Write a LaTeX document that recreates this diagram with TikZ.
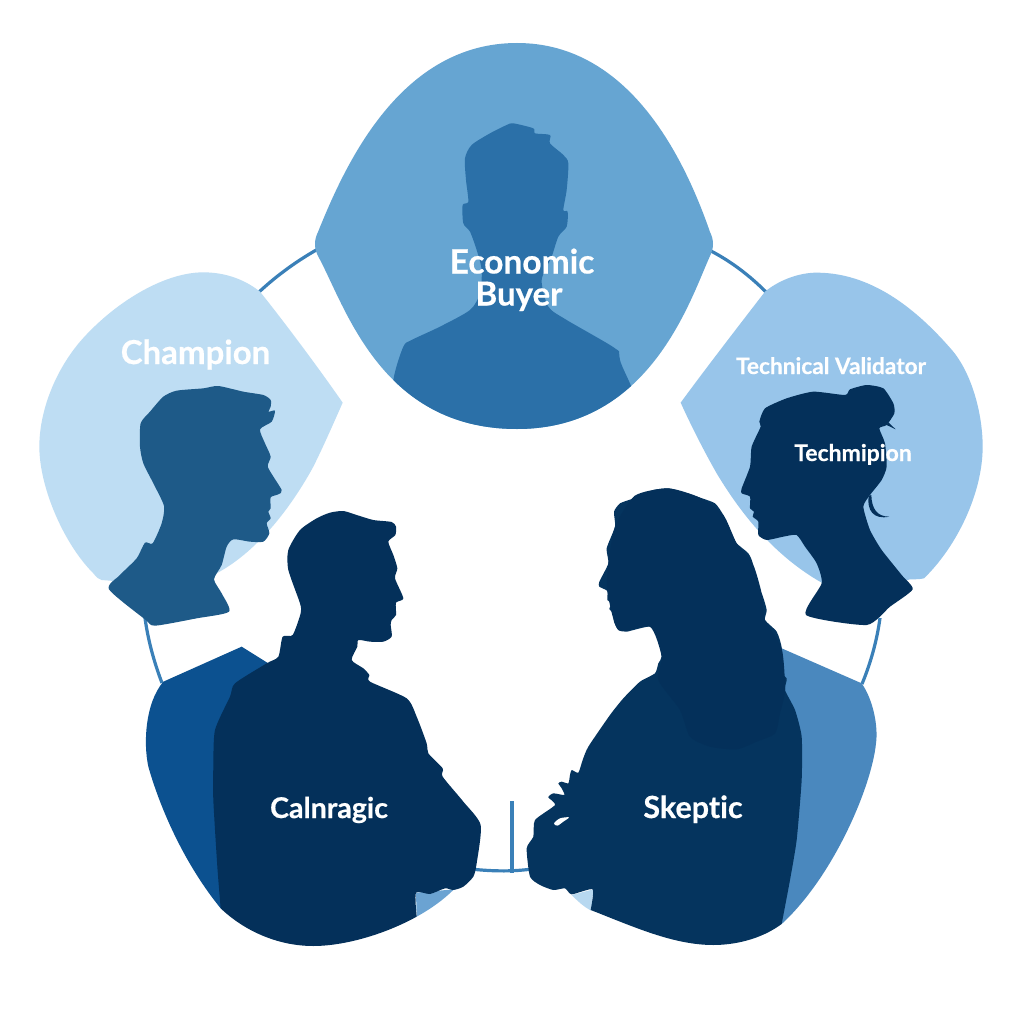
\documentclass[tikz,border=0pt]{standalone}
\usepackage{fontspec}
\setmainfont{Lato}[Ligatures=NoCommon,BoldFeatures={FakeBold=0.5}]
\definecolor{linkblue}{HTML}{3A80B8}
\definecolor{econfill}{HTML}{66A5D2}
\definecolor{econhead}{HTML}{2B70A8}
\definecolor{champfill}{HTML}{BEDDF3}
\definecolor{champhead}{HTML}{1E5A88}
\definecolor{techfill}{HTML}{98C5EA}
\definecolor{navy}{HTML}{04305A}
\definecolor{bodyshade}{HTML}{05345E}
\definecolor{leftback}{HTML}{0C5190}
\definecolor{rightback}{HTML}{4A88BE}
\definecolor{patchmid}{HTML}{6BA3D2}
\definecolor{patchpale}{HTML}{B7D8F0}
\tikzset{
  figgrid/.style={x=.33333pt,y=-.33333pt},
  outline/.style={smooth,tension=.4},
  linkline/.style={draw=linkblue,line width=3.2pt,line cap=butt},
  caption/.style={text=white,inner sep=0pt,anchor=base}
}
\newcommand{\capsize}[1]{\bfseries\fontsize{#1}{#1}\selectfont}
\begin{document}
\begin{tikzpicture}[x=1pt,y=-1pt]
\useasboundingbox (0,0) rectangle (1024,1024);
\fill[white] (0,0) rectangle (1024,1024);

% ring of links joining the five figures
\draw[linkline] (258,293) .. controls (275,277) and (295,262) .. (318,249);
\draw[linkline] (711,251) .. controls (732,262) and (750,276) .. (766,292);
\draw[linkline] (145,618) .. controls (148,640) and (154,662) .. (162,683);
\draw[linkline] (880,618) .. controls (877,640) and (871,662) .. (862,684);
\draw[linkline] (470,869) .. controls (490,871) and (510,872) .. (532,869);
\draw[draw=linkblue,line width=4pt] (512,801) -- (512,873);

% economic buyer
\def\econblob{(318,232) .. controls (345,165) and (400,43) .. (517,43) .. controls (630,43) and (685,160) .. (710,232) .. controls (714,240) and (714,248) .. (710,256) .. controls (690,300) and (650,429) .. (517,429) .. controls (380,429) and (345,305) .. (318,256) .. controls (314,248) and (314,240) .. (318,232) -- cycle}
\fill[econfill] \econblob;
\begin{scope}
\clip \econblob;
\begin{scope}[figgrid,xshift=300pt,yshift=-30pt]
\fill[econhead] plot[smooth cycle,tension=.45] coordinates {(640,280)(700,295)(705,310)(750,315)(750,340)(790,375)(805,400)(800,480)(790,540)(803,545)(800,590)(775,620)(755,680)(725,750)(745,830)(800,870)(945,955)(960,990)(1000,1250)(260,1250)(280,1050)(310,950)(335,930)(420,890)(510,840)(540,790)(545,720)(530,660)(510,605)(490,580)(488,525)(505,515)(498,450)(495,385)(515,345)(570,310)(620,285)};
\end{scope}
\end{scope}

% champion
\begin{scope}[figgrid,xshift=30pt,yshift=-260pt]
\fill[champfill] (938,428) .. controls (870,330) and (770,195) .. (690,95) .. controls (640,55) and (580,37) .. (520,37) .. controls (400,37) and (250,130) .. (150,245) .. controls (70,340) and (28,460) .. (28,560) .. controls (28,680) and (100,850) .. (190,940) .. controls (200,952) and (205,958) .. (215,960) -- (400,975) -- (560,940) .. controls (690,870) and (790,730) .. (850,620) .. controls (880,560) and (915,480) .. (938,428) -- cycle;
\fill[champhead] plot[smooth cycle,tension=.4] coordinates {(565,378)(640,395)(700,405)(722,420)(722,440)(716,455)(735,452)(725,485)(690,508)(705,550)(722,590)(714,622)(755,690)(745,703)(722,712)(722,745)(715,755)(722,775)(710,790)(718,820)(700,845)(660,845)(610,838)(590,860)(575,915)(552,958)(575,1000)(597,1055)(500,1075)(375,1097)(345,1078)(237,988)(270,945)(320,895)(345,848)(368,850)(395,790)(402,738)(370,670)(340,610)(330,560)(332,490)(360,455)(400,410)(440,392)(520,385)};
\end{scope}

% technical validator
\begin{scope}[figgrid,xshift=670pt,yshift=-260pt]
\fill[techfill] (32,428) .. controls (100,335) and (200,205) .. (285,95) .. controls (330,58) and (390,38) .. (440,38) .. controls (620,38) and (760,170) .. (850,275) .. controls (910,350) and (938,470) .. (938,560) .. controls (938,700) and (860,860) .. (762,955) .. controls (750,958) and (735,958) .. (720,958) -- (590,1000) -- (455,968) .. controls (300,880) and (200,740) .. (140,640) .. controls (100,570) and (60,490) .. (32,428) -- cycle;
\fill[navy] plot[smooth cycle,tension=.35] coordinates {(590,375)(640,385)(670,430)(673,460)(650,495)(628,505)(645,550)(650,620)(635,660)(600,705)(580,740)(600,810)(635,870)(695,945)(728,988)(660,1040)(590,1095)(408,1065)(455,970)(440,910)(405,860)(380,825)(340,830)(290,840)(265,825)(265,785)(248,770)(252,755)(240,745)(240,710)(215,700)(215,685)(240,620)(245,560)(272,500)(268,485)(285,445)(350,415)(430,395)(525,405)(540,388)};
\fill[navy] (655,487) -- (677,508) -- (650,495) -- cycle;
\fill[navy] (596,708) .. controls (590,750) and (610,780) .. (658,770) .. controls (620,770) and (605,745) .. (604,705) -- cycle;
\end{scope}

% left foreground figure
\begin{scope}[figgrid,xshift=130pt,yshift=-500pt]
\fill[leftback] (100,545) -- (335,440) -- (415,490) -- (500,900) -- (272,1225) .. controls (170,1100) and (95,940) .. (55,800) .. controls (40,730) and (45,610) .. (100,545) -- cycle;
\fill[patchmid] (858,1178) -- (972,1168) .. controls (940,1200) and (900,1228) .. (860,1250) -- cycle;
\fill[navy] plot[outline] coordinates {(272,1225)(262,1100)(250,900)(250,800)(255,690)(300,590)(315,550)(410,490)(445,470)(458,410)(488,405)(512,340)(510,310)(475,210)(475,150)(510,90)(560,55)(600,38)(640,33)(680,45)(730,60)(785,66)(798,80)(796,105)(775,125)(790,165)(802,205)(795,235)(820,295)(798,308)(798,345)(785,360)(782,375)(785,410)(760,425)(720,425)(685,420)(682,440)(665,480)(700,505)(718,525)(720,545)(830,595)(860,650)(890,730)(895,760)(938,805)(938,830)(1000,905)(1052,975)(1040,1090)(1030,1130)(1000,1160)(970,1170)(945,1165)(900,1182)(858,1178)(860,1250)} .. controls (760,1305) and (640,1338) .. (550,1338) .. controls (440,1338) and (340,1290) .. (272,1225) -- cycle;
\end{scope}

% right foreground figure
\begin{scope}[figgrid,xshift=500pt,yshift=-480pt]
\fill[rightback] (845,505) -- (1085,610) .. controls (1120,660) and (1135,740) .. (1128,790) .. controls (1115,920) and (1000,1190) .. (845,1332) -- (700,1000) -- cycle;
\fill[patchpale] (215,1245) -- (280,1228) -- (274,1292) .. controls (250,1280) and (232,1262) .. (215,1245) -- cycle;
\fill[bodyshade] plot[smooth,tension=.35] coordinates {(272,1290)(278,1228)(215,1243)(195,1225)(160,1230)(120,1215)(90,1190)(80,1105)(100,1070)(105,1020)(165,975)(145,952)(160,940)(193,945)(185,925)(175,910)(185,905)(205,910)(210,885)(215,870)(235,878)(248,840)(265,800)(330,705)(370,655)(420,605)(465,580)(475,550)(485,530)(475,480)(450,440)(380,455)(355,450)(342,425)(340,400)(328,387)(335,370)(322,360)(322,333)(298,320)(298,305)(325,250)(320,205)(345,140)(342,95)(360,70)(395,57)(405,47)(425,50)(460,30)(505,25)(550,37)(600,53)(645,70)(670,105)(695,160)(710,190)(745,220)(758,250)(758,305)(785,340)(800,390)(795,420)(830,455)(845,505)(830,565)(860,595)(855,630)(885,690)(905,770)(905,900)(890,1080)(870,1200)(845,1332)} .. controls (780,1380) and (700,1395) .. (640,1395) .. controls (520,1395) and (400,1340) .. (272,1290) -- cycle;
% hair falling over the shoulders, a shade deeper than the dress
\fill[navy] plot[smooth cycle,tension=.4] coordinates {(505,25)(600,53)(670,105)(710,190)(758,250)(785,340)(795,420)(845,505)(855,630)(840,700)(825,760)(770,785)(710,808)(630,800)(570,770)(540,690)(475,600)(485,530)(450,440)(355,450)(322,333)(325,250)(345,140)(405,47)};
\fill[white] plot[smooth cycle,tension=.5] coordinates {(162,1030)(180,1015)(207,1012)(190,1025)(172,1037)};
\end{scope}

% captions
\node[caption,font=\capsize{33.5}] (econ) at (522,273.5) {Economic};
\node[caption,font=\capsize{33}] (buyer) at (519,305.5) {Buyer};
\node[caption,font=\capsize{33}] (champ) at (195.5,364) {Champion};
\node[caption,font=\capsize{22.7}] (valid) at (831,374) {Technical Validator};
\node[caption,font=\capsize{23}] (techm) at (853,461) {Techmipion};
\node[caption,font=\capsize{28.6}] (calnr) at (329,818) {Calnragic};
\node[caption,font=\capsize{30.5}] (skept) at (693,818) {Skeptic};
\end{tikzpicture}
\end{document}
